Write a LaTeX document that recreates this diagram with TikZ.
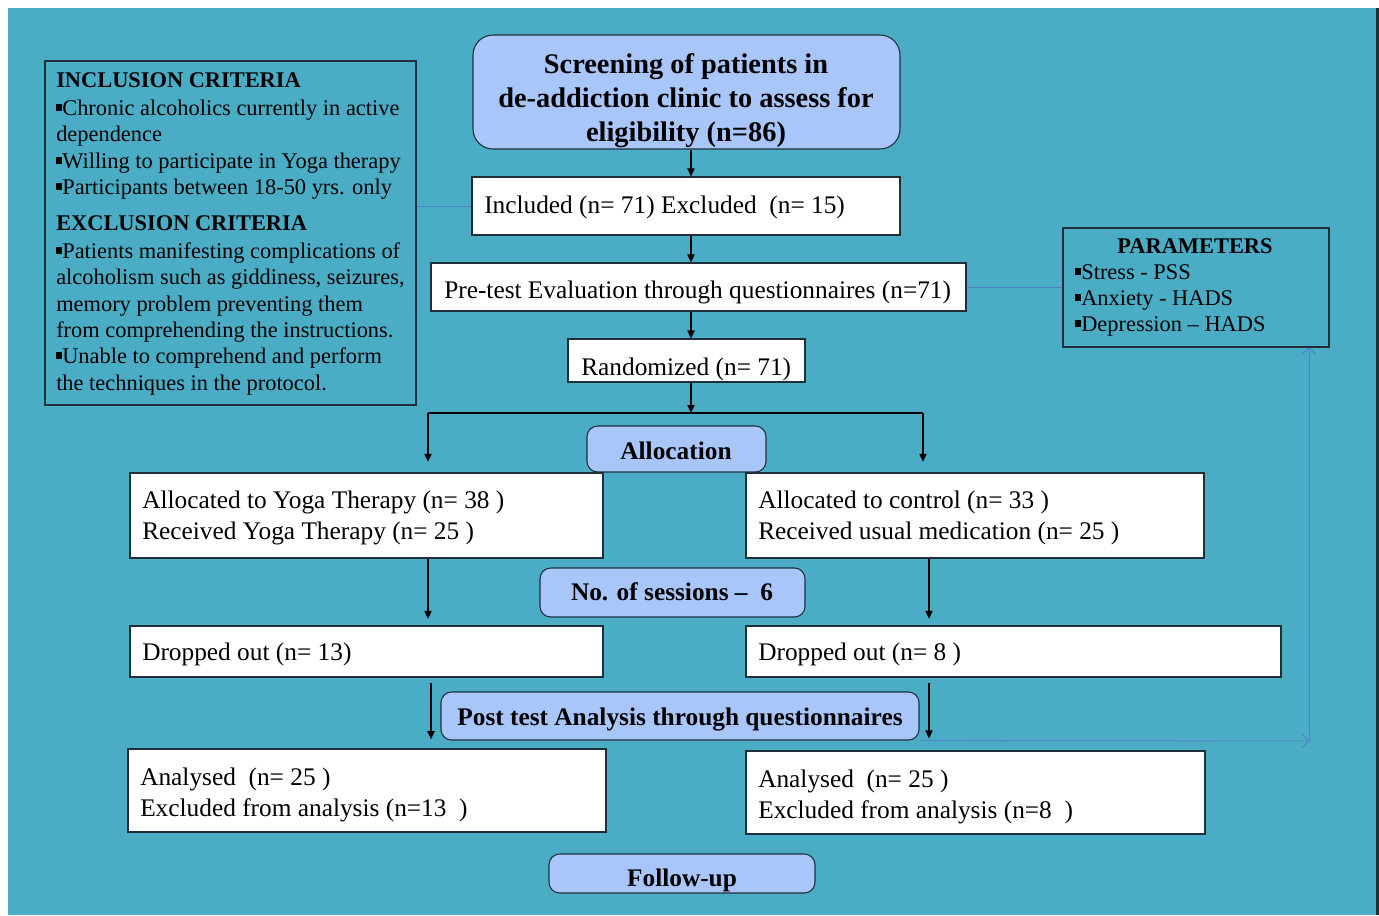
\documentclass[tikz,border=0pt]{standalone}
\usepackage{fontspec}
\setmainfont{Liberation Serif}
\usetikzlibrary{arrows.meta,fit}
\definecolor{bgteal}{HTML}{4BACC6}
\definecolor{lblue}{HTML}{A8C6FA}
\definecolor{lineblue}{HTML}{4F7FC4}
\definecolor{edge}{HTML}{1E2F3A}
\newcommand{\sqb}{\rule[0.2em]{0.27em}{0.31em}}
\begin{document}
\begin{tikzpicture}[x=0.75pt,y=-0.75pt,
 box/.style={draw=edge,line width=0.8pt,inner sep=0pt},
 wbox/.style={box,fill=white},
 rbox/.style={box,fill=lblue,rounded corners=8pt},
 cbox/.style={box},
 t/.style={anchor=base west,inner sep=0pt,font=\fontsize{19}{22}\selectfont},
 tb/.style={anchor=base,inner sep=0pt,font=\bfseries\fontsize{19}{22}\selectfont},
 s/.style={anchor=base west,inner sep=0pt,font=\fontsize{16.8}{20}\selectfont},
 sb/.style={anchor=base west,inner sep=0pt,font=\bfseries\fontsize{16.8}{20}\selectfont},
 hb/.style={anchor=base,inner sep=0pt,font=\bfseries\fontsize{21.3}{25}\selectfont},
 arr/.style={draw=black,line width=0.8pt,-{Triangle[length=6pt,width=5.5pt]}},
 bl/.style={draw=lineblue,line width=0.6pt},
 barb/.style={bl,-{Straight Barb[length=4.5pt,width=10pt]}}
]
\useasboundingbox (0,0) rectangle (1379,915);
\fill[white] (0,0) rectangle (1379,915);
\fill[bgteal] (8,8) rectangle (1376,915);
\fill[edge] (1376,8) rectangle (1378.5,915);

% criteria box
\node[cbox,fit={(45,61) (416,405)}] (crit) {};
\node[sb] (c1) at (56,87) {INCLUSION CRITERIA};
\node[s] (c2) at (56,115) {\sqb Chronic alcoholics currently in active};
\node[s] (c3) at (56,141) {dependence};
\node[s] (c4) at (56,168) {\sqb Willing to participate in Yoga therapy};
\node[s] (c5) at (56,194) {\sqb Participants between 18-50 yrs. only};
\node[sb] (c6) at (56,230) {EXCLUSION CRITERIA};
\node[s] (c7) at (56,258) {\sqb Patients manifesting complications of};
\node[s] (c8) at (56,284) {alcoholism such as giddiness, seizures,};
\node[s] (c9) at (56,311) {memory problem preventing them};
\node[s] (c10) at (56,337) {from comprehending the instructions.};
\node[s] (c11) at (56,363) {\sqb Unable to comprehend and perform};
\node[s] (c12) at (56,390) {the techniques in the protocol.};

% parameters box
\node[cbox,fit={(1063,228) (1329,347)}] (par) {};
\node[anchor=base,inner sep=0pt,font=\bfseries\fontsize{16.8}{20}\selectfont] (p0) at (1195,253) {PARAMETERS};
\node[s] (p1) at (1075,279) {\sqb Stress - PSS};
\node[s] (p2) at (1075,305) {\sqb Anxiety - HADS};
\node[s] (p3) at (1075,331) {\sqb Depression -- HADS};

% screening
\node[rbox,rounded corners=15pt,fit={(473,35) (900,149)}] (scr) {};
\node[hb] (s1) at (686,73) {Screening of patients in};
\node[hb] (s2) at (686,107) {de-addiction clinic to assess for};
\node[hb] (s3) at (686,141) {eligibility (n=86)};

% flow boxes
\node[wbox,fit={(472,177) (900,235)}] (incl) {};
\node[t] (inclt) at (484,213) {Included (n= 71) Excluded~~(n= 15)};
\node[wbox,fit={(431,263) (966,311)}] (pre) {};
\node[t] (pret) at (444,298) {Pre-test Evaluation through questionnaires (n=71)};
\node[wbox,fit={(568,339) (805,382)}] (rand) {};
\node[t] (randt) at (581,375) {Randomized (n= 71)};

\node[rbox,fit={(587,426) (766,472)}] (alloc) {};
\node[tb] (alloct) at (676,459) {Allocation};

\node[wbox,fit={(130,473) (603,558)}] (yoga) {};
\node[t] (yoga1) at (142,508) {Allocated to Yoga Therapy (n= 38 )};
\node[t] (yoga2) at (142,539) {Received Yoga Therapy (n= 25 )};
\node[wbox,fit={(746,473) (1204,558)}] (ctrl) {};
\node[t] (ctrl1) at (758,508) {Allocated to control (n= 33 )};
\node[t] (ctrl2) at (758,539) {Received usual medication (n= 25 )};

\node[rbox,fit={(540,568) (805,617)}] (sess) {};
\node[tb] (sesst) at (672,600) {No. of sessions --~~6};

\node[wbox,fit={(130,626) (603,677)}] (dropl) {};
\node[t] (droplt) at (142,660) {Dropped out (n= 13)};
\node[wbox,fit={(746,626) (1281,677)}] (dropr) {};
\node[t] (droprt) at (758,660) {Dropped out (n= 8 )};

\node[rbox,fit={(441,692) (919,740)}] (post) {};
\node[tb] (postt) at (680,725) {Post test Analysis through questionnaires};

\node[wbox,fit={(128,749) (606,832)}] (anl) {};
\node[t] (anl1) at (140,785) {Analysed~~(n= 25 )};
\node[t] (anl2) at (140,816) {Excluded from analysis (n=13~~)};
\node[wbox,fit={(746,751) (1205,834)}] (anr) {};
\node[t] (anr1) at (758,787) {Analysed~~(n= 25 )};
\node[t] (anr2) at (758,818) {Excluded from analysis (n=8~~)};

\node[rbox,fit={(549,854) (815,893)}] (fol) {};
\node[tb] (folt) at (682,886) {Follow-up};

% connectors
\coordinate (cx) at (691,0);
\draw[arr] (scr.south -| cx) -- (incl.north -| cx);
\draw[arr] (incl.south -| cx) -- (pre.north -| cx);
\draw[arr] (pre.south -| cx) -- (rand.north -| cx);
\coordinate (split) at (691,413);
\coordinate (sl) at (428,413);
\coordinate (sr) at (923,413);
\draw[arr] (rand.south -| cx) -- (split);
\draw[line width=0.8pt] (sl) -- (sr);
\draw[arr,shorten >=8pt] (sl) -- (sl |- yoga.north);
\draw[arr,shorten >=8pt] (sr) -- (sr |- ctrl.north);
\coordinate (xl) at (428,0);
\coordinate (xr) at (929,0);
\draw[arr,shorten >=5pt] (yoga.south -| xl) -- (dropl.north -| xl);
\draw[arr,shorten >=5pt] (ctrl.south -| xr) -- (dropr.north -| xr);
\coordinate (xl2) at (431,0);
\draw[arr,shorten <=4pt,shorten >=7pt] (dropl.south -| xl2) -- (anl.north -| xl2);
\draw[arr,shorten <=4pt,shorten >=9pt] (dropr.south -| xr) -- (anr.north -| xr);

\draw[bl] (incl.west -| crit.east) -- (incl.west);
\draw[bl] (pre.east) -- (pre.east -| par.west);
\coordinate (lp) at (1309,741);
\draw[barb] (post.south east) -- (lp);
\draw[barb] (lp) -- (lp |- par.south);
\end{tikzpicture}
\end{document}
